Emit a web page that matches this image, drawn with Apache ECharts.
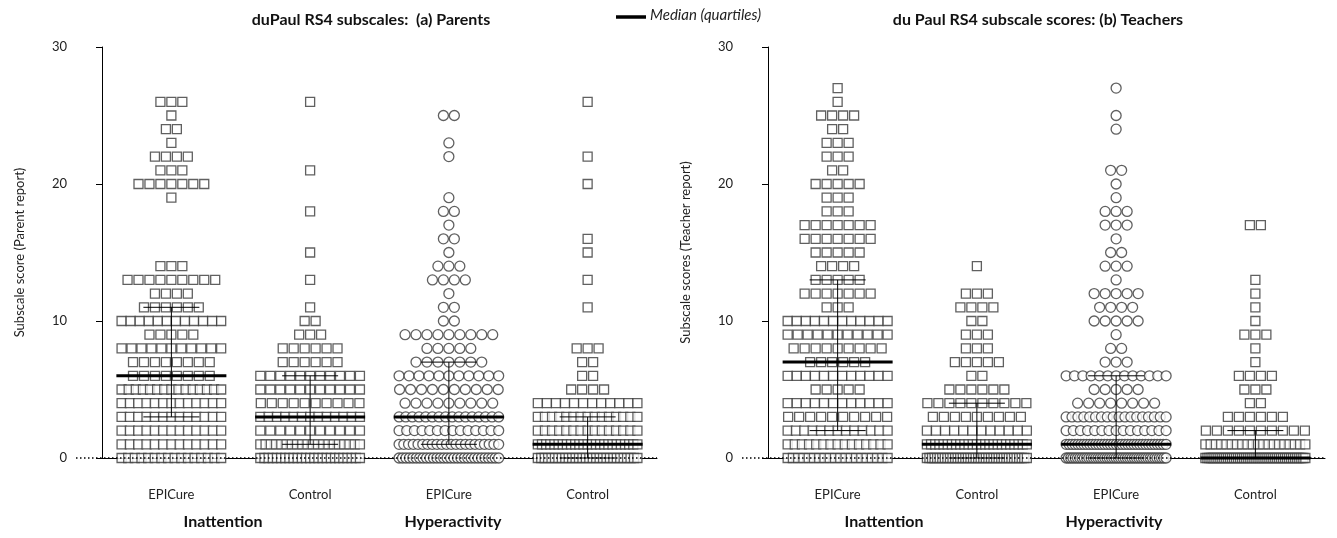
<!DOCTYPE html>
<html>
<head>
<meta charset="utf-8">
<script src="https://cdn.jsdelivr.net/npm/echarts@6/dist/echarts.min.js"></script>
<style>
  html, body { margin: 0; padding: 0; background: #fff; }
  #chart { width: 1337px; height: 538px; }
</style>
</head>
<body>
<div id="chart"></div>
<script>
  const categories = ['EPICure', 'Control', 'EPICure', 'Control']
  const groupNames = ['Inattention', 'Hyperactivity']
  const yTicks = [0, 10, 20, 30]

  // number of children at each score (index = score 0,1,2,...)
  const parentInattEpi = [16, 13, 13, 13, 13, 15, 8, 8, 11, 5, 12, 6, 4, 9, 3, 0, 0, 0, 0, 1, 7, 3, 4, 1, 2, 1, 3]
  const parentInattCtl = [25, 20, 11, 13, 10, 11, 11, 6, 6, 3, 2, 1, 0, 1, 0, 1, 0, 0, 1, 0, 0, 1, 0, 0, 0, 0, 1]
  const parentHyperEpi = [30, 22, 14, 16, 9, 10, 11, 7, 5, 9, 2, 2, 1, 4, 3, 1, 2, 1, 2, 1, 0, 0, 1, 1, 0, 2]
  const parentHyperCtl = [30, 25, 15, 15, 12, 4, 2, 2, 3, 0, 0, 1, 0, 1, 0, 1, 1, 0, 0, 0, 1, 0, 1, 0, 0, 0, 1]

  const teacherInattEpi = [20, 15, 13, 10, 12, 5, 12, 6, 9, 11, 12, 3, 7, 5, 4, 5, 7, 7, 3, 3, 5, 2, 3, 3, 2, 4, 1, 1]
  const teacherInattCtl = [40, 25, 12, 9, 10, 6, 2, 5, 3, 3, 2, 4, 3, 0, 1]
  const teacherHyperEpi = [45, 35, 15, 18, 8, 5, 13, 3, 2, 1, 5, 4, 5, 1, 3, 2, 1, 3, 3, 1, 1, 2, 0, 0, 1, 1, 0, 1]
  const teacherHyperCtl = [50, 20, 10, 6, 2, 3, 4, 1, 1, 3, 1, 1, 1, 1, 0, 0, 0, 2]

  // median (quartiles) per group
  const parentMedian = [6, 3, 3, 1]
  const parentQ1 = [3, 1, 1, 0]
  const parentQ3 = [11, 6, 7, 3]
  const teacherMedian = [7, 1, 1, 0]
  const teacherQ1 = [2, 0, 0, 0]
  const teacherQ3 = [13, 4, 6, 2]

  const symbols = ['rect', 'rect', 'circle', 'rect']

  // layout of the dot rows (axis units: one category = 1)
  const STEP = 11 / 139.3
  const SPAN = 100 / 139.3
  const Y_OFFSET = 26 // y axis stands apart from the x axis

  function swarm(counts, slot) {
    const pts = []
    counts.forEach((n, score) => {
      if (!n) return
      const step = n > 1 ? Math.min(STEP, SPAN / (n - 1)) : 0
      for (let i = 0; i < n; i++) {
        pts.push([slot + 0.5 + (i - (n - 1) / 2) * step, score])
      }
    })
    return pts
  }

  function medianItem(params, api) {
    const x = api.value(0)
    const pm = api.coord([x, api.value(1)])
    const p1 = api.coord([x, api.value(2)])
    const p3 = api.coord([x, api.value(3)])
    const thin = { stroke: '#000', lineWidth: 1 }
    const children = [
      { type: 'line', shape: { x1: p1[0], y1: p1[1], x2: p3[0], y2: p3[1] }, style: thin },
      { type: 'line', shape: { x1: p1[0] - 28, y1: p1[1], x2: p1[0] + 28, y2: p1[1] }, style: thin },
      { type: 'line', shape: { x1: p3[0] - 28, y1: p3[1], x2: p3[0] + 28, y2: p3[1] }, style: thin },
      { type: 'line', shape: { x1: pm[0] - 55, y1: pm[1], x2: pm[0] + 55, y2: pm[1] }, style: { stroke: '#000', lineWidth: 3 } }
    ]
    if (params.dataIndex === 0) {
      // dotted zero line from the y axis to the end of the x axis
      const cs = params.coordSys
      const y0 = api.coord([0, 0])[1]
      children.unshift({
        type: 'line', z2: -1,
        shape: { x1: cs.x - Y_OFFSET, y1: y0, x2: cs.x + cs.width, y2: y0 },
        style: { stroke: '#000', lineWidth: 1.3, lineDash: [1.5, 2.5] }
      })
    }
    return { type: 'group', children }
  }

  const font = 'Lato, "Open Sans", sans-serif'

  function panelAxes(gridIndex, name) {
    return {
      cat: {
        type: 'category',
        gridIndex,
        data: categories,
        offset: 22,
        axisLine: { lineStyle: { color: '#000', width: 1 } },
        axisTick: { alignWithLabel: true, length: 4, lineStyle: { color: '#000' } },
        axisLabel: { fontFamily: font, fontSize: 13, color: '#222', margin: 8 }
      },
      val: { type: 'value', gridIndex, min: 0, max: 4, show: false },
      y: {
        type: 'value',
        gridIndex,
        min: 0,
        max: 30,
        interval: 10,
        offset: Y_OFFSET,
        name,
        nameLocation: 'middle',
        nameGap: 50,
        nameRotate: 90,
        nameTextStyle: { fontFamily: font, fontSize: 13, color: '#222' },
        axisLine: { show: true, lineStyle: { color: '#000', width: 1 } },
        axisTick: { show: true, length: 6, lineStyle: { color: '#000' } },
        axisLabel: { fontFamily: font, fontSize: 13, color: '#222', margin: 9,
          formatter: v => yTicks.includes(v) ? String(v) : '' },
        splitLine: { show: false }
      }
    }
  }

  const left = panelAxes(0, 'Subscale score (Parent report)')
  const right = panelAxes(1, 'Subscale scores (Teacher report)')

  const panels = [
    { groups: [parentInattEpi, parentInattCtl, parentHyperEpi, parentHyperCtl],
      med: parentMedian, q1: parentQ1, q3: parentQ3, xIndex: 1, yIndex: 0 },
    { groups: [teacherInattEpi, teacherInattCtl, teacherHyperEpi, teacherHyperCtl],
      med: teacherMedian, q1: teacherQ1, q3: teacherQ3, xIndex: 3, yIndex: 1 }
  ]

  const series = []
  panels.forEach(p => {
    p.groups.forEach((counts, slot) => {
      series.push({
        type: 'scatter',
        xAxisIndex: p.xIndex,
        yAxisIndex: p.yIndex,
        symbol: symbols[slot],
        symbolSize: symbols[slot] === 'rect' ? 9 : 10,
        itemStyle: { color: '#fff', borderColor: '#383838', borderWidth: 1.3 },
        data: swarm(counts, slot),
        silent: true,
        z: 3
      })
    })
    series.push({
      type: 'custom',
      xAxisIndex: p.xIndex,
      yAxisIndex: p.yIndex,
      z: 5,
      silent: true,
      renderItem: medianItem,
      encode: { x: 0, y: 1 },
      data: p.med.map((m, i) => [i + 0.5, m, p.q1[i], p.q3[i]])
    })
  })

  const titleStyle = { fontFamily: font, fontSize: 16, fontWeight: 'bold', color: '#111' }
  const groupStyle = { fontFamily: font, fontSize: 16, fontWeight: 'bold', fill: '#111', align: 'center' }

  const chart = echarts.init(document.getElementById('chart'))
  chart.setOption({
    animation: false,
    backgroundColor: '#fff',
    title: [
      { text: 'duPaul RS4 subscales:  (a) Parents', left: 366, textAlign: 'center', top: 7, textStyle: titleStyle },
      { text: 'du Paul RS4 subscale scores: (b) Teachers', left: 1033, textAlign: 'center', top: 7, textStyle: titleStyle }
    ],
    grid: [
      { left: 102, right: 680, top: 47, bottom: 80 },
      { left: 768, right: 12, top: 47, bottom: 80 }
    ],
    xAxis: [left.cat, left.val, right.cat, right.val],
    yAxis: [left.y, right.y],
    series,
    graphic: [
      { type: 'line', shape: { x1: 616, y1: 17, x2: 646, y2: 17 }, style: { stroke: '#000', lineWidth: 3.5 } },
      { type: 'text', left: 650, top: 8,
        style: { text: 'Median (quartiles)', fontFamily: font, fontSize: 15, fontStyle: 'italic', fill: '#222' } },
      { type: 'text', x: 223, y: 514, style: Object.assign({ text: groupNames[0] }, groupStyle) },
      { type: 'text', x: 453, y: 514, style: Object.assign({ text: groupNames[1] }, groupStyle) },
      { type: 'text', x: 884, y: 514, style: Object.assign({ text: groupNames[0] }, groupStyle) },
      { type: 'text', x: 1114, y: 514, style: Object.assign({ text: groupNames[1] }, groupStyle) }
    ]
  })
</script>
</body>
</html>
